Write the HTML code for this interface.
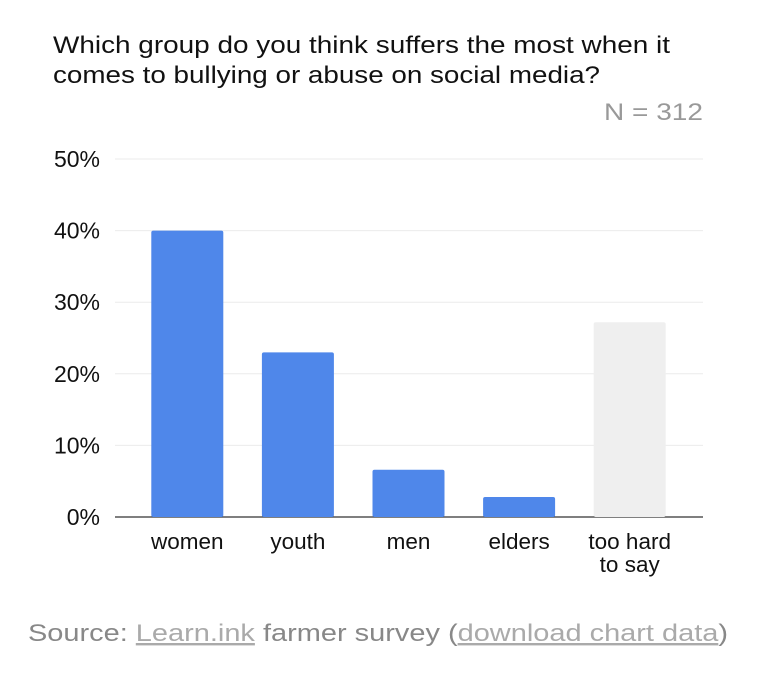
<!DOCTYPE html>
<html><head><meta charset="utf-8"><style>
body{margin:0;background:#fff;width:774px;height:682px;overflow:hidden;font-family:"Liberation Sans",Arial,sans-serif}
svg{display:block}
</style></head><body>
<svg id="chart" width="774" height="682">
<text x="53" y="53" font-size="24" fill="#111" textLength="617" lengthAdjust="spacingAndGlyphs">Which group do you think suffers the most when it</text>
<text x="53" y="83" font-size="24" fill="#111" textLength="547" lengthAdjust="spacingAndGlyphs">comes to bullying or abuse on social media?</text>
<text x="703" y="120" font-size="24" fill="#999" text-anchor="end" textLength="99" lengthAdjust="spacingAndGlyphs">N = 312</text>
<g id="grid"></g><g id="bars"></g><g id="xlabels"></g>
<text x="28" y="641" font-size="24" fill="#888" textLength="700" lengthAdjust="spacingAndGlyphs">Source: <tspan fill="#aaa" text-decoration="underline">Learn.ink</tspan> farmer survey (<tspan fill="#aaa" text-decoration="underline">download chart data</tspan>)</text>
</svg>
<script>
const categories=[["women"],["youth"],["men"],["elders"],["too hard","to say"]];
const values=[40,23,6.6,2.8,27.2];
const colors=["#4f87ea","#4f87ea","#4f87ea","#4f87ea","#efefef"];
const ticks=[0,10,20,30,40,50];
const tickLabels=["0%","10%","20%","30%","40%","50%"];
const NS="http://www.w3.org/2000/svg";
const x0=115,x1=703,y0=517,yTop=159,maxV=50;
const bandStart=132,bandEnd=685;
const y=v=>y0-(v/maxV)*(y0-yTop);
const band=(bandEnd-bandStart)/categories.length;
const bx=i=>bandStart+band*i+band/2;
function mk(t,a,p){const e=document.createElementNS(NS,t);for(const k in a)e.setAttribute(k,a[k]);p.appendChild(e);return e;}
const grid=document.getElementById('grid');
ticks.forEach((t,i)=>{
 const l=mk('line',{x1:x0,x2:x1,y1:y(t),y2:y(t),stroke:t===0?'#333':'#ebebeb','stroke-width':t===0?1.3:1},grid);
 
 
 const tx=mk('text',{x:100,y:y(t)+8,'font-size':23,'text-anchor':'end',fill:'#111'},grid);
 tx.textContent=tickLabels[i];
 
 
});
const bars=document.getElementById('bars'),xl=document.getElementById('xlabels');
const bw=72;
values.forEach((v,i)=>{
 const r=mk('rect',{x:bx(i)-bw/2,y:y(v),width:bw,height:y0-y(v),fill:colors[i],rx:2},bars);
 
 
 categories[i].forEach((ln,j)=>{
  const t=mk('text',{x:bx(i),y:549+j*23,'font-size':22.5,'text-anchor':'middle',fill:'#111'},xl);
  t.textContent=ln;
  
  
 });
});
</script>
</body></html>
